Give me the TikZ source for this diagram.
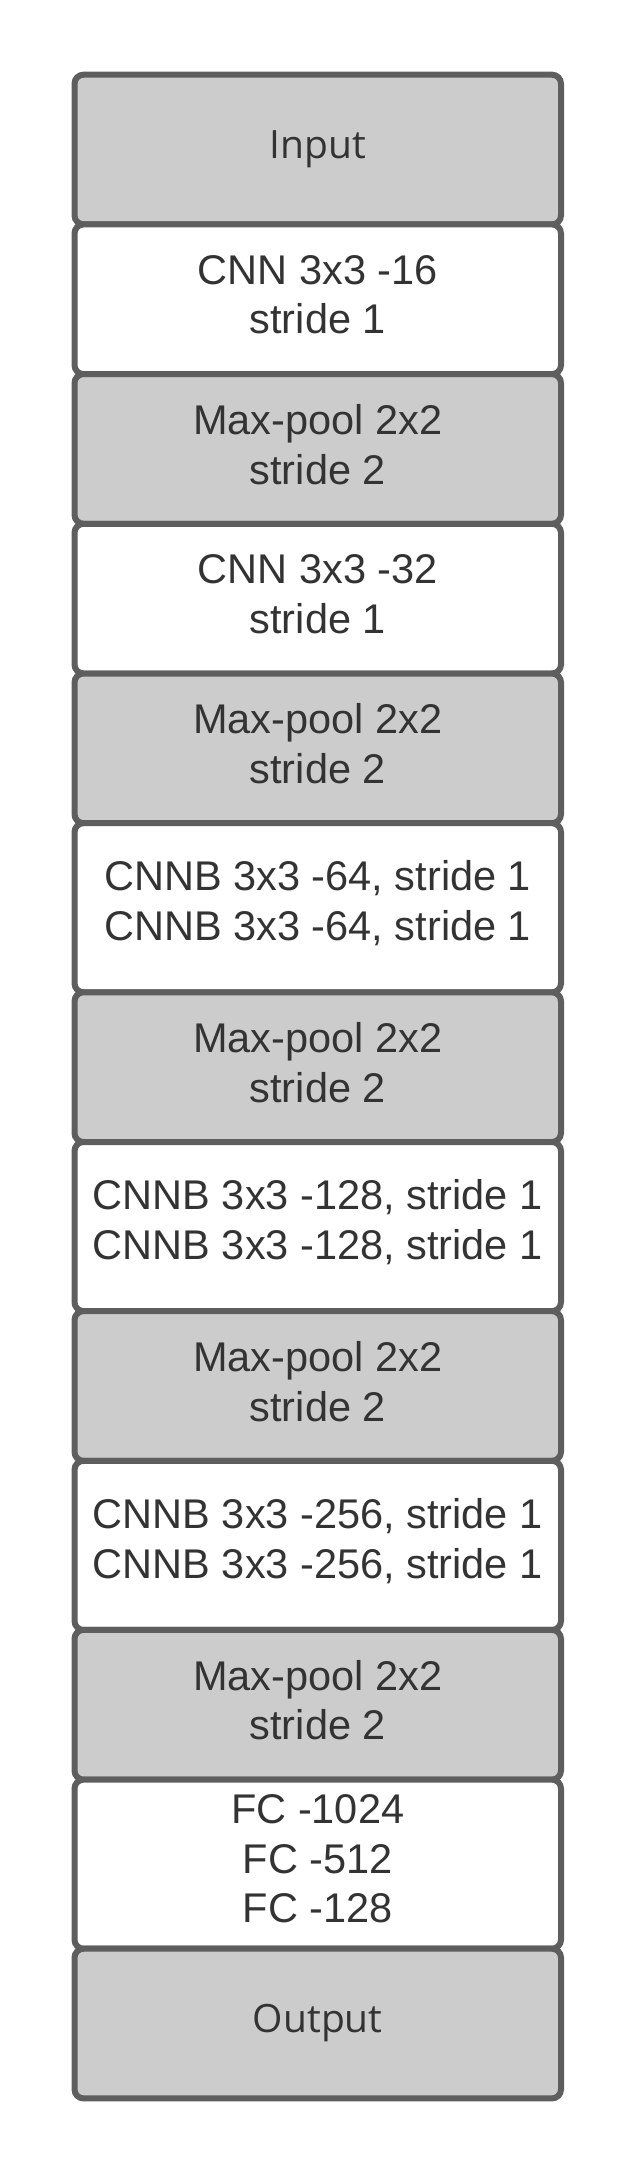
\documentclass[tikz,border=0pt]{standalone}
\usepackage{fontspec}
\setmainfont{Liberation Sans}
\newfontfamily\osans{Open Sans}
\definecolor{boxgrey}{HTML}{CCCCCC}
\definecolor{edgegrey}{HTML}{5E5E5E}
\definecolor{textgrey}{HTML}{333333}
\begin{document}
\begin{tikzpicture}[x=1pt,y=-1pt,
  layerbox/.style={draw=edgegrey, line width=6pt, rounded corners=9pt,
    minimum width=486.5pt, inner sep=0pt, outer sep=0pt},
  greybox/.style={layerbox, fill=boxgrey, minimum height=149.7pt},
  whitebox/.style={layerbox, fill=white, minimum height=149.7pt},
  tallbox/.style={layerbox, fill=white, minimum height=169.1pt},
  labeltext/.style={text=textgrey, align=center, inner sep=0pt,
    font=\fontsize{41.5}{49.5}\selectfont},
  endtext/.style={text=textgrey, inner sep=0pt, anchor=base,
    font=\osans\fontsize{39}{45}\selectfont}]
\useasboundingbox (0,0) rectangle (638,2175);
\def\cx{317.75}
% boxes
\node[greybox]  (input) at (\cx,149.55)  {};
\node[whitebox] (cnnA)  at (\cx,299.25)  {};
\node[greybox]  (mpA)   at (\cx,448.95)  {};
\node[whitebox] (cnnB)  at (\cx,598.65)  {};
\node[greybox]  (mpB)   at (\cx,748.35)  {};
\node[tallbox]  (cnnbA) at (\cx,907.75)  {};
\node[greybox]  (mpC)   at (\cx,1067.15) {};
\node[tallbox]  (cnnbB) at (\cx,1226.55) {};
\node[greybox]  (mpD)   at (\cx,1385.95) {};
\node[tallbox]  (cnnbC) at (\cx,1545.35) {};
\node[greybox]  (mpE)   at (\cx,1704.75) {};
\node[tallbox]  (fc)    at (\cx,1864.15) {};
\node[greybox]  (output) at (\cx,2023.55) {};
% texts
\node[endtext] (tInput) at ([yshift=-8.5pt]input.center) {Input};
\node[labeltext] (tcnnA) at ([yshift=4.5pt]cnnA.center) {CNN 3x3 -16\\stride 1};
\node[labeltext] (tmpA) at ([yshift=4.5pt]mpA.center) {Max-pool 2x2\\stride 2};
\node[labeltext] (tcnnB) at ([yshift=4.5pt]cnnB.center) {CNN 3x3 -32\\stride 1};
\node[labeltext] (tmpB) at ([yshift=4.5pt]mpB.center) {Max-pool 2x2\\stride 2};
\node[labeltext] (tcnnbA) at ([yshift=4.5pt]cnnbA.center) {CNNB 3x3 -64, stride 1\\CNNB 3x3 -64, stride 1};
\node[labeltext] (tmpC) at ([yshift=4.5pt]mpC.center) {Max-pool 2x2\\stride 2};
\node[labeltext] (tcnnbB) at ([yshift=4.5pt]cnnbB.center) {CNNB 3x3 -128, stride 1\\CNNB 3x3 -128, stride 1};
\node[labeltext] (tmpD) at ([yshift=4.5pt]mpD.center) {Max-pool 2x2\\stride 2};
\node[labeltext] (tcnnbC) at ([yshift=4.5pt]cnnbC.center) {CNNB 3x3 -256, stride 1\\CNNB 3x3 -256, stride 1};
\node[labeltext] (tmpE) at ([yshift=4.5pt]mpE.center) {Max-pool 2x2\\stride 2};
\node[labeltext] (tfc) at ([yshift=5pt]fc.center) {FC -1024\\FC -512\\FC -128};
\node[endtext] (tOutput) at ([yshift=-8.5pt]output.center) {Output};
\end{tikzpicture}
\end{document}
